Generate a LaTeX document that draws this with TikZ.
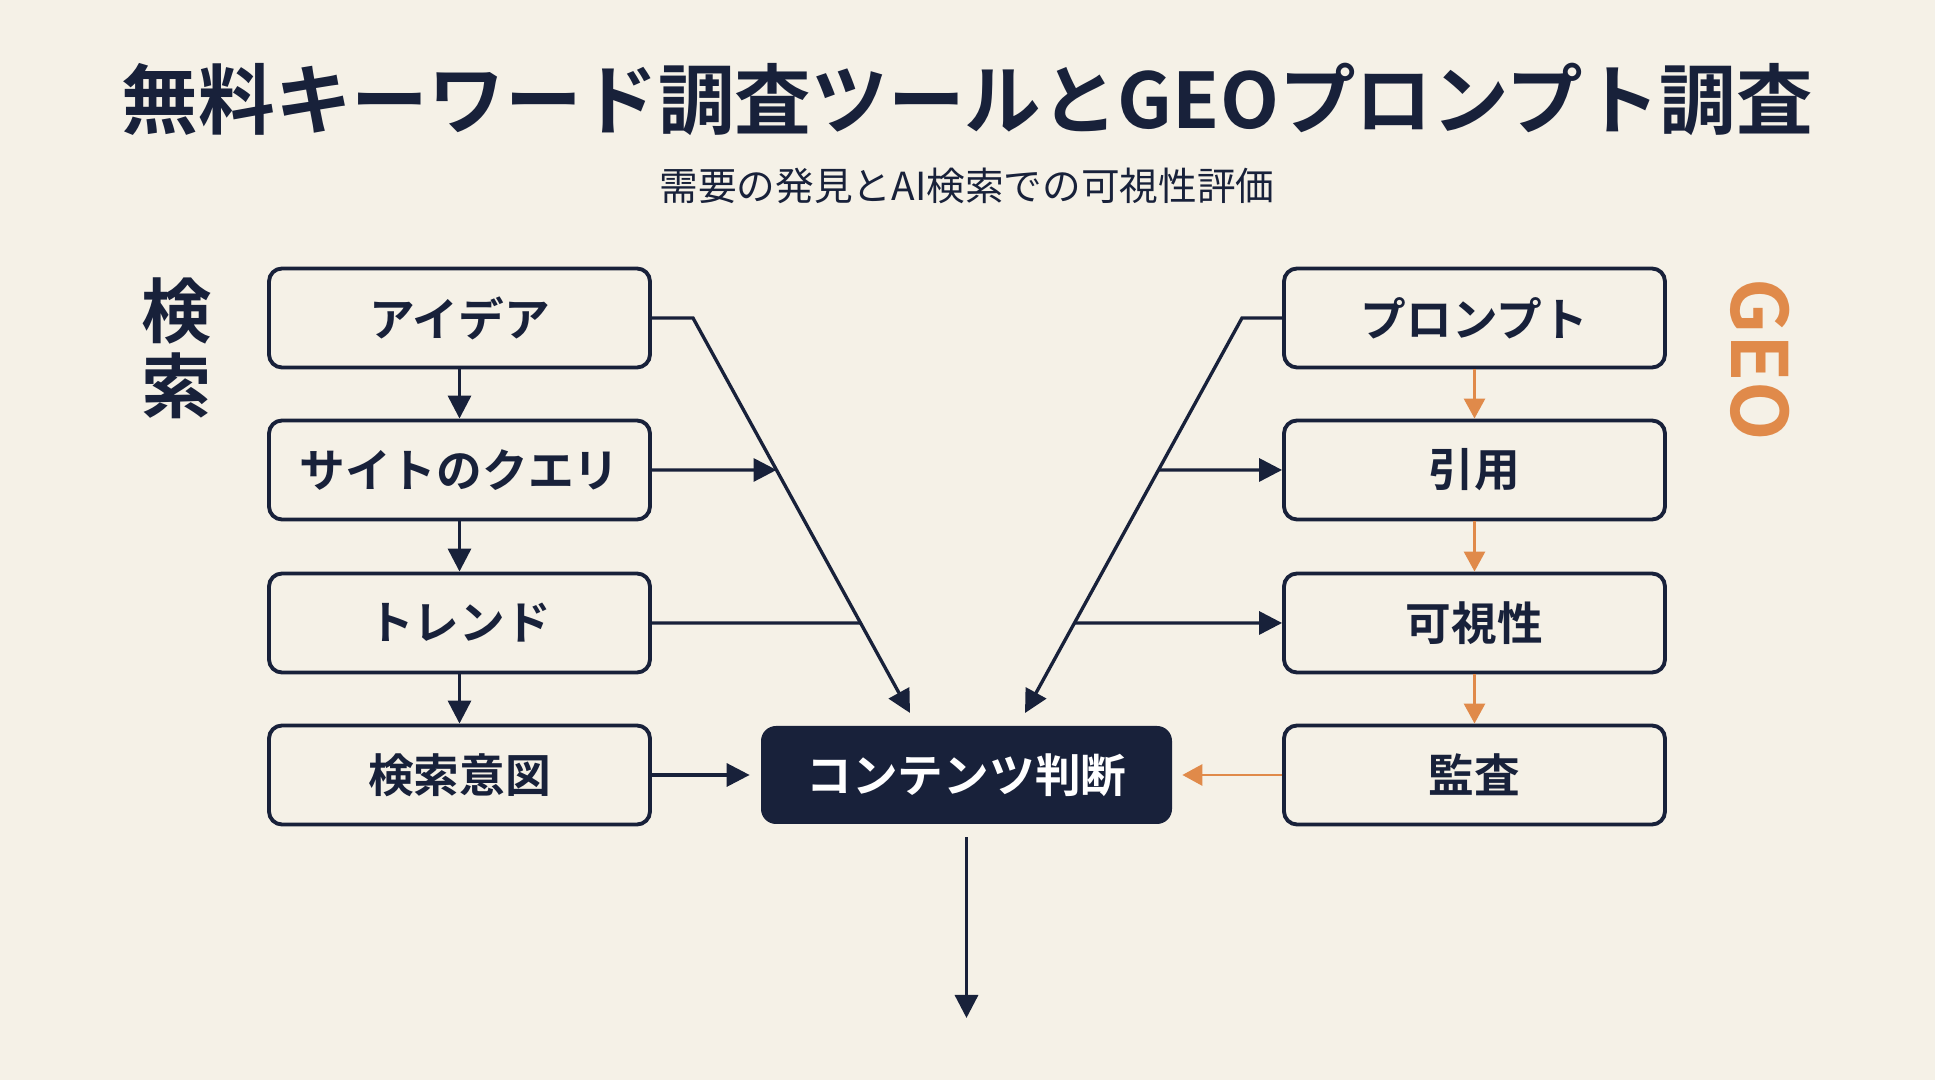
\documentclass[tikz,border=0pt]{standalone}
\usepackage{fontspec}
\usepackage{xcolor}
\usepackage{tikz}
\usetikzlibrary{arrows.meta,positioning,calc}
\setmainfont{Noto Sans CJK JP}[BoldFont={Noto Sans CJK JP Bold}]
\definecolor{paper}{HTML}{F5F1E7}
\definecolor{navy}{HTML}{18213A}
\definecolor{geoorange}{HTML}{E08A4A}

\begin{document}
\begin{tikzpicture}[
    box/.style={draw=navy,line width=2.2pt,rounded corners=0.26cm,fill=paper,text=navy,
        minimum width=7.62cm,minimum height=1.98cm,font=\fontsize{26}{30}\selectfont\bfseries},
    hub/.style={fill=navy,rounded corners=0.3cm,text=white,
        minimum width=8.22cm,minimum height=1.96cm,font=\fontsize{26}{30}\selectfont\bfseries},
    flow/.style={draw=navy,line width=1.9pt,-{Triangle[length=0.46cm,width=0.46cm]}},
    link/.style={draw=navy,line width=1.9pt},
    geoflow/.style={draw=geoorange,line width=1.6pt,-{Triangle[length=0.4cm,width=0.42cm]}}
]
    % Background
    \fill[paper] (0,0) rectangle (38.7,21.6);
    \useasboundingbox (0,0) rectangle (38.7,21.6);

    % Title
    \node[text=navy,font=\fontsize{43.6}{50}\selectfont\bfseries] (title) at (19.35,19.62) {無料キーワード調査ツールとGEOプロンプト調査};
    \node[text=navy,font=\fontsize{22}{26}\selectfont] (subtitle) at (19.34,17.88) {需要の発見とAI検索での可視性評価};

    % Side labels
    \node[text=navy,align=center,font=\fontsize{40}{42.5}\selectfont\bfseries] (searchlbl) at (3.54,14.63) {検\\索};
    \node[text=geoorange,rotate=-90,font=\fontsize{44}{50}\selectfont\bfseries] (geolbl) at (35.2,14.4) {GEO};

    % Search column
    \node[box] (idea) at (9.19,15.24) {アイデア};
    \node[box] (query) at (9.19,12.2) {サイトのクエリ};
    \node[box] (trend) at (9.19,9.14) {トレンド};
    \node[box] (intent) at (9.19,6.1) {検索意図};

    % GEO column
    \node[box] (prompt) at (29.49,15.24) {プロンプト};
    \node[box] (cite) at (29.49,12.2) {引用};
    \node[box] (vis) at (29.49,9.14) {可視性};
    \node[box] (audit) at (29.49,6.1) {監査};

    % Decision
    \node[hub] (judge) at (19.33,6.1) {コンテンツ判断};
    \coordinate (out) at (19.33,1.24);

    % Diagonals
    \coordinate (lbend) at (13.86,15.24);
    \coordinate (lend) at (18.2,7.34);
    \coordinate (rbend) at (24.84,15.24);
    \coordinate (rend) at (20.5,7.34);
    \coordinate (lq) at (intersection of lbend--lend and query.east--query.west);
    \coordinate (lt) at (intersection of lbend--lend and trend.east--trend.west);
    \coordinate (rc) at (intersection of rbend--rend and cite.east--cite.west);
    \coordinate (rv) at (intersection of rbend--rend and vis.east--vis.west);

    % Search arrows
    \draw[flow] (idea) -- (query);
    \draw[flow] (query) -- (trend);
    \draw[flow] (trend) -- (intent);
    \draw[flow] (idea.east) -- (lbend) -- (lend);
    \draw[flow] (query.east) -- (lq);
    \draw[link] (trend.east) -- (lt);
    \draw[flow,shorten >=0.22cm] (intent.east) -- (judge.west);

    % GEO arrows
    \draw[geoflow] (prompt) -- (cite);
    \draw[geoflow] (cite) -- (vis);
    \draw[geoflow] (vis) -- (audit);
    \draw[flow] (prompt.west) -- (rbend) -- (rend);
    \draw[flow] (rc) -- (cite.west);
    \draw[flow] (rv) -- (vis.west);
    \draw[geoflow,shorten >=0.2cm] (audit.west) -- (judge.east);

    % Output
    \draw[flow,shorten <=0.26cm] (judge.south) -- (out);
\end{tikzpicture}
\end{document}
